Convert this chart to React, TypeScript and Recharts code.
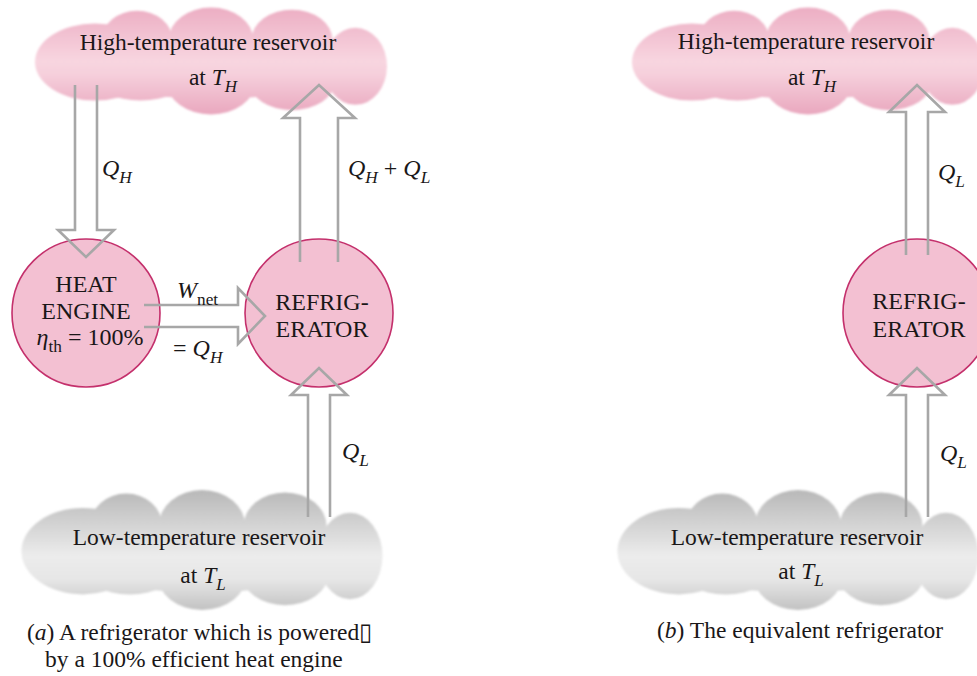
import { ScatterChart, Scatter, XAxis, YAxis } from 'recharts'

const CHART_W = 977
const CHART_H = 676
const X_MAX = 977
const Y_MAX = 676
const KX = CHART_W / X_MAX
const KY = CHART_H / Y_MAX

// reservoir clouds (centre of each cloud, diagram units)
const reservoirs = [
  { id: 'hotA', x: 211, y: 61, tone: 'hot' },
  { id: 'hotB', x: 808, y: 61, tone: 'hot' },
  { id: 'coldA', x: 202, y: 550, tone: 'cold' },
  { id: 'coldB', x: 798, y: 550, tone: 'cold' },
]

// devices (heat engine / refrigerators)
const devices = [
  { id: 'engine', x: 86, y: 313 },
  { id: 'fridgeA', x: 319, y: 313 },
  { id: 'fridgeB', x: 917, y: 313 },
]

// energy flows: tip point, tail coordinate along the flow, direction
const flows = [
  { id: 'qhIn', x: 86, y: 257, tail: 85, dir: 'down', kind: 'narrow' },
  { id: 'wnet', x: 265, y: 316, tail: 144, dir: 'right', kind: 'narrow' },
  { id: 'qOutA', x: 319, y: 85, tail: 262, dir: 'up', kind: 'wide' },
  { id: 'qlInA', x: 319, y: 368, tail: 517, dir: 'up', kind: 'narrow' },
  { id: 'qOutB', x: 917, y: 85, tail: 255, dir: 'up', kind: 'narrow' },
  { id: 'qlInB', x: 917, y: 368, tail: 517, dir: 'up', kind: 'narrow' },
]

// text: *..* italic, _{..} subscript
const reservoirText = [
  { x: 208, y: 50, text: 'High-temperature reservoir' },
  { x: 213, y: 85, text: 'at *T*_{*H*}' },
  { x: 806, y: 49, text: 'High-temperature reservoir' },
  { x: 812, y: 85, text: 'at *T*_{*H*}' },
  { x: 199, y: 545, text: 'Low-temperature reservoir' },
  { x: 203, y: 583, text: 'at *T*_{*L*}' },
  { x: 797, y: 545, text: 'Low-temperature reservoir' },
  { x: 801, y: 579, text: 'at *T*_{*L*}' },
]

const deviceText = [
  { x: 86, y: 292, text: 'HEAT' },
  { x: 86, y: 319, text: 'ENGINE' },
  { x: 90, y: 345, text: '*η*_{th} = 100%' },
  { x: 322, y: 310, text: 'REFRIG-' },
  { x: 322, y: 337, text: 'ERATOR' },
  { x: 919, y: 309, text: 'REFRIG-' },
  { x: 919, y: 337, text: 'ERATOR' },
]

const flowText = [
  { x: 102, y: 176, text: '*Q*_{*H*}' },
  { x: 348, y: 176, text: '*Q*_{*H*} + *Q*_{*L*}' },
  { x: 177, y: 298, text: '*W*_{net}' },
  { x: 173, y: 356, text: '= *Q*_{*H*}' },
  { x: 342, y: 459, text: '*Q*_{*L*}' },
  { x: 938, y: 180, text: '*Q*_{*L*}' },
  { x: 940, y: 461, text: '*Q*_{*L*}' },
]

const captions = [
  { x: 27, y: 640, text: '(*a*) A refrigerator which is powered\u25AF' },
  { x: 45, y: 667, text: 'by a 100% efficient heat engine' },
  { x: 657, y: 638, text: '(*b*) The equivalent refrigerator' },
]

const FONT = '"Liberation Serif", "Times New Roman", serif'
const INK = '#1a1718'

const CLOUD_SIZE: Record<string, [number, number]> = { hot: [352, 107], cold: [361, 120] }
const CLOUD_STOPS: Record<string, [number, string][]> = {
  hot: [[0, '#ecaec3'], [0.5, '#f8d5e0'], [0.62, '#f6d0dc'], [1, '#e9a7be']],
  cold: [[0, '#b8b8b8'], [0.55, '#ececec'], [0.75, '#e6e6e6'], [1, '#c2c2c2']],
}
// lobes as [cx, cy, rx, ry] fractions of the cloud box
const LOBES = [
  [0.17, 0.51, 0.17, 0.36],
  [0.29, 0.3, 0.1, 0.27],
  [0.5, 0.3, 0.12, 0.3],
  [0.73, 0.3, 0.115, 0.28],
  [0.91, 0.55, 0.09, 0.36],
  [0.5, 0.7, 0.125, 0.3],
  [0.73, 0.7, 0.12, 0.26],
  [0.3, 0.65, 0.13, 0.22],
  [0.5, 0.55, 0.42, 0.3],
]

const ARROW_SIZE: Record<string, { shaft: number; wing: number; head: number }> = {
  narrow: { shaft: 11, wing: 28, head: 27 },
  wide: { shaft: 19, wing: 36, head: 33 },
}

const DEVICE_R = 74

type Run = { text: string; italic: boolean; sub: boolean }

function parseRich(src: string, sub = false): Run[] {
  const runs: Run[] = []
  let italic = false
  let buf = ''
  const flush = () => {
    if (buf) runs.push({ text: buf, italic, sub })
    buf = ''
  }
  for (let i = 0; i < src.length; i++) {
    const c = src[i]
    if (c === '*') {
      flush()
      italic = !italic
    } else if (c === '_' && src[i + 1] === '{') {
      flush()
      const end = src.indexOf('}', i)
      runs.push(...parseRich(src.slice(i + 2, end), true))
      i = end
    } else {
      buf += c
    }
  }
  flush()
  return runs
}

function RichText({ x, y, text, size, anchor }: { x: number; y: number; text: string; size: number; anchor: 'start' | 'middle' }) {
  const runs = parseRich(text)
  const shift = size * 0.28
  let inSub = false
  return (
    <text x={x} y={y} fontFamily={FONT} fontSize={size} fill={INK} textAnchor={anchor}>
      {runs.map((r, i) => {
        let dy = 0
        if (r.sub && !inSub) dy = shift
        if (!r.sub && inSub) dy = -shift
        inSub = r.sub
        return (
          <tspan key={i} dy={dy} fontStyle={r.italic ? 'italic' : 'normal'} fontSize={r.sub ? size * 0.72 : size}>
            {r.text}
          </tspan>
        )
      })}
    </text>
  )
}

function CloudShape(props: any) {
  const { cx, cy, payload } = props
  const [w, h] = CLOUD_SIZE[payload.tone]
  const bw = w * KX
  const bh = h * KY
  const x0 = cx - bw / 2
  const y0 = cy - bh / 2
  const gid = `cloud-${payload.id}`
  return (
    <g>
      <defs>
        <linearGradient id={gid} gradientUnits="userSpaceOnUse" x1={0} y1={y0} x2={0} y2={y0 + bh}>
          {CLOUD_STOPS[payload.tone].map(([o, c]) => (
            <stop key={o} offset={o} stopColor={c} />
          ))}
        </linearGradient>
        <filter id={`${gid}-soft`} x="-5%" y="-10%" width="110%" height="120%">
          <feGaussianBlur stdDeviation={0.9} />
        </filter>
      </defs>
      <g fill={`url(#${gid})`} filter={`url(#${gid}-soft)`}>
        {LOBES.map(([lx, ly, rx, ry], i) => (
          <ellipse key={i} cx={x0 + lx * bw} cy={y0 + ly * bh} rx={rx * bw} ry={ry * bh} />
        ))}
      </g>
    </g>
  )
}

function DeviceShape(props: any) {
  const { cx, cy } = props
  return <circle cx={cx} cy={cy} r={DEVICE_R * KX} fill="#f3c0d2" stroke="#c4306c" strokeWidth={1.6} />
}

function FlowShape(props: any) {
  const { cx, cy, payload } = props
  const sz = ARROW_SIZE[payload.kind]
  const dir = payload.dir
  const dx = dir === 'right' ? 1 : 0
  const dy = dir === 'down' ? 1 : dir === 'up' ? -1 : 0
  const len = dir === 'right' ? cx - payload.tail * KX : Math.abs(cy - payload.tail * KY)
  const nx = -dy
  const ny = dx
  const p = (a: number, b: number) => `${cx - dx * a + nx * b},${cy - dy * a + ny * b}`
  const d = `M${p(len, -sz.shaft)} L${p(sz.head, -sz.shaft)} L${p(sz.head, -sz.wing)} L${p(0, 0)} L${p(sz.head, sz.wing)} L${p(sz.head, sz.shaft)} L${p(len, sz.shaft)}`
  return <path d={d} fill="none" stroke="#a7a7a7" strokeWidth={2.6} strokeLinejoin="miter" />
}

const textShape = (size: number, anchor: 'start' | 'middle') => (props: any) => (
  <RichText x={props.cx} y={props.cy} text={props.payload.text} size={size} anchor={anchor} />
)

export default function App() {
  return (
    <div style={{ position: 'absolute', left: 0, top: 0, background: '#fff' }}>
      <ScatterChart width={CHART_W} height={CHART_H} margin={{ top: 0, right: 0, bottom: 0, left: 0 }}>
        <XAxis type="number" dataKey="x" domain={[0, X_MAX]} hide />
        <YAxis type="number" dataKey="y" domain={[0, Y_MAX]} reversed hide />
        <Scatter data={reservoirs} shape={CloudShape} isAnimationActive={false} />
        <Scatter data={devices} shape={DeviceShape} isAnimationActive={false} />
        <Scatter data={flows} shape={FlowShape} isAnimationActive={false} />
        <Scatter data={reservoirText} shape={textShape(23.5, 'middle')} isAnimationActive={false} />
        <Scatter data={deviceText} shape={textShape(24, 'middle')} isAnimationActive={false} />
        <Scatter data={flowText} shape={textShape(24, 'start')} isAnimationActive={false} />
        <Scatter data={captions} shape={textShape(23.5, 'start')} isAnimationActive={false} />
      </ScatterChart>
    </div>
  )
}
